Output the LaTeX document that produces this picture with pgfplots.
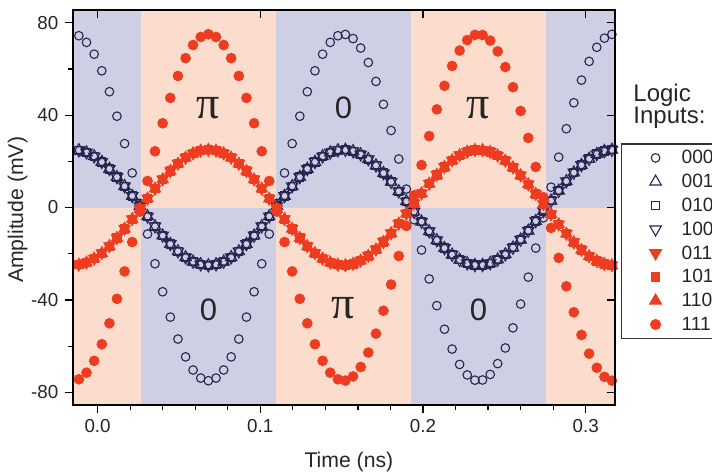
\documentclass[border=0pt]{standalone}
\usepackage{pgfplots}
\pgfplotsset{compat=1.18}
\usepackage{pgfplotstable}
\usepackage{fontspec}
\setmainfont{Liberation Sans}
\newfontfamily\pifont{Liberation Serif}

\definecolor{lav}{RGB}{206,206,229}
\definecolor{sal}{RGB}{252,221,205}
\definecolor{navy}{RGB}{40,38,80}
\definecolor{redm}{RGB}{238,60,32}

% Output amplitude for the logic inputs
% big0: 000, sm0: 001/010/100, sm1: 011/101/110, big1: 111
\pgfplotstableread{
x       big0    sm0     sm1     big1
-0.0115  74.37  24.79  -24.79  -74.37
-0.0068  71.49  23.83  -23.83  -71.49
-0.0021  66.38  22.13  -22.13  -66.38
 0.0026  59.18  19.73  -19.73  -59.18
 0.0073  50.14  16.71  -16.71  -50.14
 0.0119  39.53  13.18  -13.18  -39.53
 0.0166  27.67   9.22   -9.22  -27.67
 0.0213  14.96   4.99   -4.99  -14.96
 0.0260   1.77   0.59   -0.59   -1.77
 0.0307 -11.48  -3.83    3.83   11.48
 0.0353 -24.35  -8.12    8.12   24.35
 0.0400 -36.47 -12.16   12.16   36.47
 0.0447 -47.45 -15.82   15.82   47.45
 0.0494 -56.95 -18.98   18.98   56.95
 0.0541 -64.66 -21.55   21.55   64.66
 0.0587 -70.34 -23.45   23.45   70.34
 0.0634 -73.83 -24.61   24.61   73.83
 0.0681 -75.00 -25.00   25.00   75.00
 0.0728 -73.83 -24.61   24.61   73.83
 0.0775 -70.34 -23.45   23.45   70.34
 0.0821 -64.66 -21.55   21.55   64.66
 0.0868 -56.95 -18.98   18.98   56.95
 0.0915 -47.45 -15.82   15.82   47.45
 0.0962 -36.47 -12.16   12.16   36.47
 0.1009 -24.35  -8.12    8.12   24.35
 0.1055 -11.48  -3.83    3.83   11.48
 0.1102   1.77   0.59   -0.59   -1.77
 0.1149  14.96   4.99   -4.99  -14.96
 0.1196  27.67   9.22   -9.22  -27.67
 0.1243  39.53  13.18  -13.18  -39.53
 0.1289  50.14  16.71  -16.71  -50.14
 0.1336  59.18  19.73  -19.73  -59.18
 0.1383  66.38  22.13  -22.13  -66.38
 0.1430  71.49  23.83  -23.83  -71.49
 0.1477  74.37  24.79  -24.79  -74.37
 0.1523  74.92  24.97  -24.97  -74.92
 0.1570  73.13  24.38  -24.38  -73.13
 0.1617  69.04  23.01  -23.01  -69.04
 0.1664  62.78  20.93  -20.93  -62.78
 0.1711  54.59  18.20  -18.20  -54.59
 0.1757  44.67  14.89  -14.89  -44.67
 0.1804  33.35  11.12  -11.12  -33.35
 0.1851  20.99   7.00   -7.00  -20.99
 0.1898   7.97   2.66   -2.66   -7.97
 0.1945  -5.30  -1.77    1.77    5.30
 0.1991 -18.40  -6.13    6.13   18.40
 0.2038 -30.92 -10.31   10.31   30.92
 0.2085 -42.48 -14.16   14.16   42.48
 0.2132 -52.70 -17.57   17.57   52.70
 0.2179 -61.28 -20.43   20.43   61.28
 0.2225 -67.94 -22.65   22.65   67.94
 0.2272 -72.48 -24.16   24.16   72.48
 0.2319 -74.75 -24.92   24.92   74.75
 0.2366 -74.67 -24.89   24.89   74.67
 0.2413 -72.26 -24.09   24.09   72.26
 0.2459 -67.58 -22.53   22.53   67.58
 0.2506 -60.80 -20.27   20.27   60.80
 0.2553 -52.10 -17.37   17.37   52.10
 0.2600 -41.79 -13.93   13.93   41.79
 0.2647 -30.14 -10.05   10.05   30.14
 0.2693 -17.57  -5.86    5.86   17.57
 0.2740  -4.45  -1.48    1.48    4.45
 0.2787   8.81   2.94   -2.94   -8.81
 0.2834  21.80   7.27   -7.27  -21.80
 0.2881  34.11  11.37  -11.37  -34.11
 0.2927  45.35  15.12  -15.12  -45.35
 0.2974  55.15  18.38  -18.38  -55.15
 0.3021  63.26  21.09  -21.09  -63.26
 0.3068  69.37  23.12  -23.12  -69.37
 0.3115  73.31  24.44  -24.44  -73.31
 0.3161  74.96  24.99  -24.99  -74.96
}\waves

\begin{document}
\begin{tikzpicture}
\begin{axis}[
  name=main, at={(0,0)}, anchor=south west,
  scale only axis, width=271pt, height=197.5pt,
  xmin=-0.0151, xmax=0.318, ymin=-85.5, ymax=85.5,
  axis on top,
  axis background/.style={fill=sal},
  xtick={0,0.1,0.2,0.3}, xticklabels={0.0,0.1,0.2,0.3},
  minor x tick num=4,
  ytick={-80,-40,0,40,80}, yticklabels={-80,-40,0,40,80},
  minor y tick num=1,
  xtick pos=left, ytick pos=left,
  tick align=outside,
  major tick length=3.8pt, minor tick length=2.4pt,
  tick style={black, line width=0.6pt},
  axis line style={black, line width=0.7pt},
  ticklabel style={font=\fontsize{9.4}{11}\selectfont, text=black!85},
  xlabel={Time (ns)}, ylabel={Amplitude (mV)},
  label style={font=\fontsize{10.6}{12}\selectfont, text=black!85},
  xlabel style={at={(axis description cs:0.509,-0.1577)}, anchor=base},
  ylabel style={at={(axis description cs:-0.102,0.494)}, anchor=center},
  legend style={at={(1.0105,0.6625)}, anchor=north west,
    draw=black!80, line width=0.6pt, fill=white,
    inner xsep=0pt, inner ysep=3pt, row sep=3.9pt,
    font=\fontsize{9.6}{10}\selectfont, text=black!85,
    cells={anchor=west},
    nodes={inner sep=0pt, text height=7pt, text depth=1pt}},
  legend image code/.code={%
    \path[draw=none, fill=none] (-17.15pt,0pt) -- (13pt,0pt);
    \draw[#1] plot coordinates {(0pt,0pt)};},
]
% phase bands: lavender over the salmon background
\addplot[draw=none, fill=lav, forget plot] coordinates {(-0.03,0) (0.0266,0) (0.0266,90) (-0.03,90)} -- cycle;
\addplot[draw=none, fill=lav, forget plot] coordinates {(0.1096,0) (0.1926,0) (0.1926,90) (0.1096,90)} -- cycle;
\addplot[draw=none, fill=lav, forget plot] coordinates {(0.2756,0) (0.34,0) (0.34,90) (0.2756,90)} -- cycle;
\addplot[draw=none, fill=lav, forget plot] coordinates {(0.0266,-90) (0.1096,-90) (0.1096,0) (0.0266,0)} -- cycle;
\addplot[draw=none, fill=lav, forget plot] coordinates {(0.1926,-90) (0.2756,-90) (0.2756,0) (0.1926,0)} -- cycle;

\addplot[only marks, mark=o, mark size=2.15pt, navy, line width=0.55pt] table[x=x, y=big0] {\waves};
\addlegendentry{000\hspace*{8pt}}
\addplot[only marks, mark=triangle, mark size=3.3pt, navy, line width=0.55pt] table[x=x, y=sm0] {\waves};
\addlegendentry{001}
\addplot[only marks, mark=square, mark size=2.05pt, navy, line width=0.55pt] table[x=x, y=sm0] {\waves};
\addlegendentry{010}
\addplot[only marks, mark=triangle, mark size=3.3pt, mark options={rotate=180}, navy, line width=0.55pt] table[x=x, y=sm0] {\waves};
\addlegendentry{100}
\addplot[only marks, mark=triangle*, mark size=3.3pt, mark options={rotate=180}, redm] table[x=x, y=sm1] {\waves};
\addlegendentry{011}
\addplot[only marks, mark=square*, mark size=2.05pt, redm] table[x=x, y=sm1] {\waves};
\addlegendentry{101}
\addplot[only marks, mark=triangle*, mark size=3.3pt, redm] table[x=x, y=sm1] {\waves};
\addlegendentry{110}
\addplot[only marks, mark=*, mark size=2.45pt, redm] table[x=x, y=big1] {\waves};
\addlegendentry{111}

% phase labels
\node[anchor=base, font=\pifont\fontsize{23}{23}\selectfont, text=black!85] at (axis cs:0.0681,38.5) {π};
\node[anchor=base, font=\fontsize{15.5}{15.5}\selectfont, text=black!85] at (axis cs:0.1511,38.5) {0};
\node[anchor=base, font=\pifont\fontsize{23}{23}\selectfont, text=black!85] at (axis cs:0.2341,38.5) {π};
\node[anchor=base, font=\fontsize{15.5}{15.5}\selectfont, text=black!85] at (axis cs:0.0681,-49) {0};
\node[anchor=base, font=\pifont\fontsize{23}{23}\selectfont, text=black!85] at (axis cs:0.1511,-48) {π};
\node[anchor=base, font=\fontsize{15.5}{15.5}\selectfont, text=black!85] at (axis cs:0.2341,-49) {0};
\end{axis}

% mirrored inward ticks on the top and right edges
\begin{axis}[
  at={(main.south west)}, anchor=south west,
  scale only axis, width=271pt, height=197.5pt,
  xmin=-0.0151, xmax=0.318, ymin=-85.5, ymax=85.5,
  xtick={0,0.1,0.2,0.3}, ytick={-80,-40,0,40,80},
  xticklabels={}, yticklabels={},
  xtick pos=right, ytick pos=right,
  tick align=inside, major tick length=3.8pt,
  tick style={black, line width=0.6pt},
  axis line style={black, line width=0.7pt},
]
\end{axis}

\node[anchor=base west, inner sep=0pt, font=\fontsize{12}{12}\selectfont, text=black!85]
  at ([shift={(280pt,151.65pt)}]main.south west) {Logic};
\node[anchor=base west, inner sep=0pt, font=\fontsize{12}{12}\selectfont, text=black!85]
  at ([shift={(280pt,140.85pt)}]main.south west) {Inputs:};

\pgfresetboundingbox
\useasboundingbox ([shift={(-36.5pt,-33.5pt)}]main.south west) rectangle ++(356pt,236pt);
\end{tikzpicture}
\end{document}
